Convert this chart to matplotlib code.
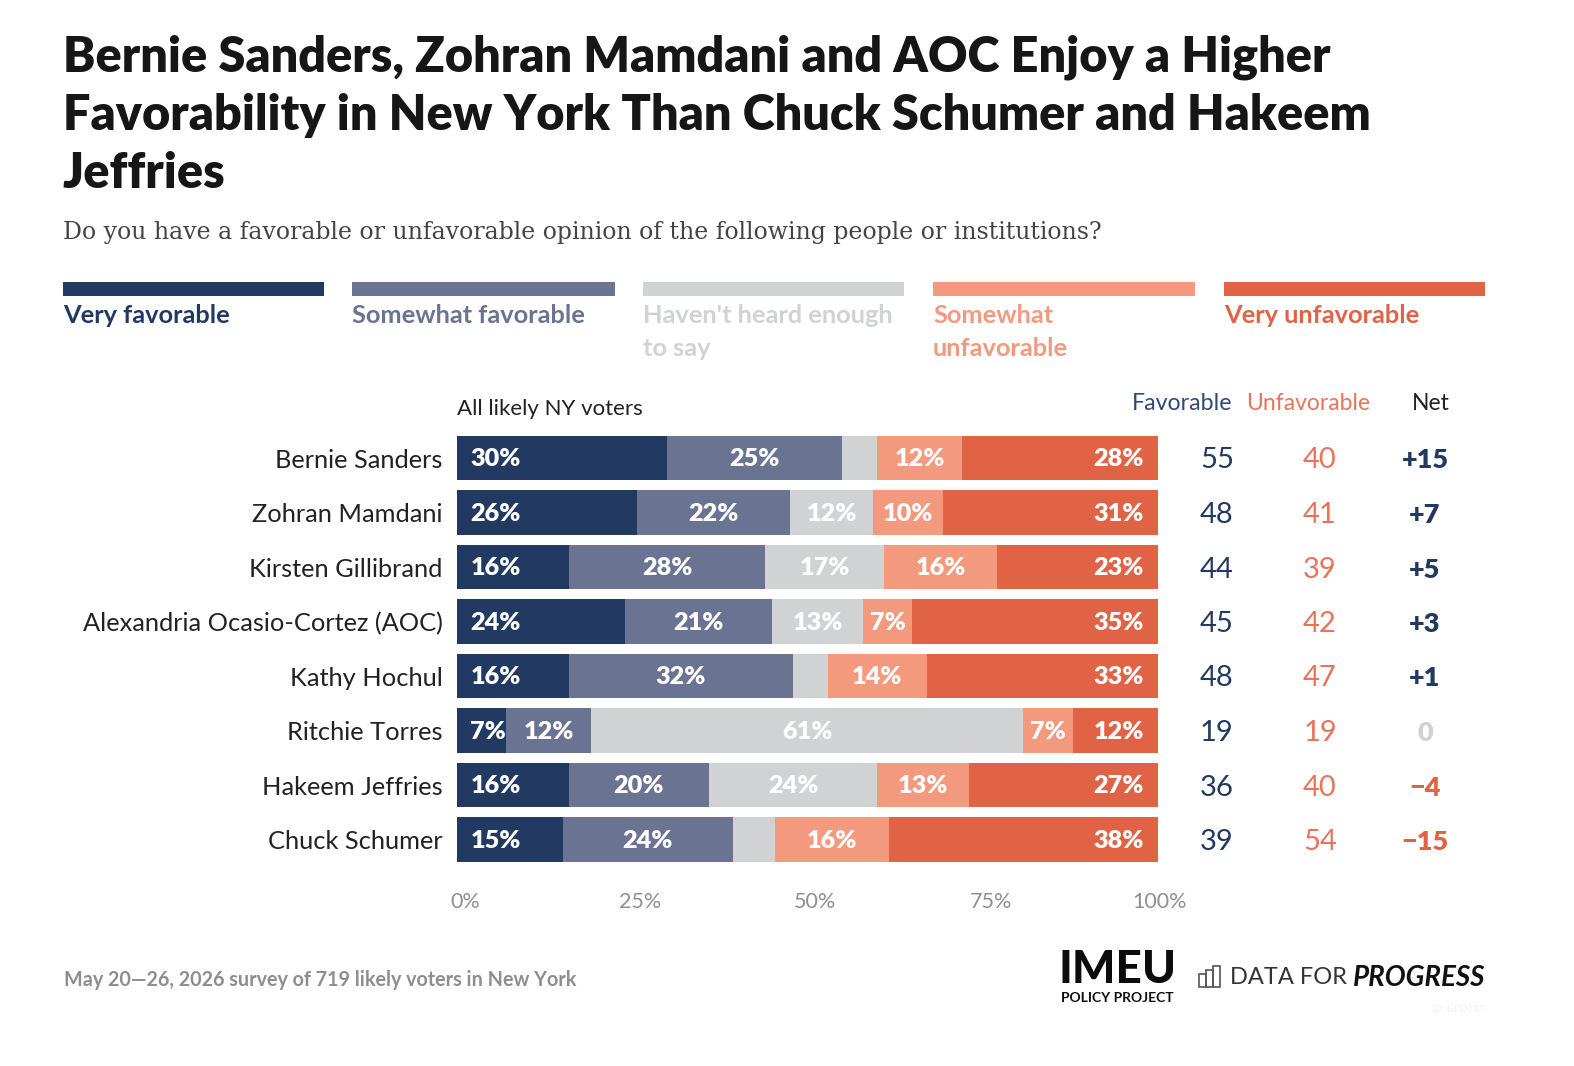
import matplotlib
matplotlib.use('Agg')
import matplotlib.pyplot as plt
from matplotlib.patches import Rectangle
from matplotlib.transforms import ScaledTranslation
import numpy as np

W, H = 1574, 1066

names = ['Bernie Sanders', 'Zohran Mamdani', 'Kirsten Gillibrand',
         'Alexandria Ocasio-Cortez (AOC)', 'Kathy Hochul', 'Ritchie Torres',
         'Hakeem Jeffries', 'Chuck Schumer']
very_fav = [30, 26, 16, 24, 16, 7, 16, 15]
some_fav = [25, 22, 28, 21, 32, 12, 20, 24]
not_heard = [5, 12, 17, 13, 5, 61, 24, 6]
some_unfav = [12, 10, 16, 7, 14, 7, 13, 16]
very_unfav = [28, 31, 23, 35, 33, 12, 27, 38]

favorable = [55, 48, 44, 45, 48, 19, 36, 39]
unfavorable = [40, 41, 39, 42, 47, 19, 40, 54]
net = ['+15', '+7', '+5', '+3', '+1', '0', '\u22124', '\u221215']
net_colors = ['#223962'] * 5 + ['#d1d2d4'] + ['#e06346'] * 2

legend_labels = ['Very favorable', 'Somewhat favorable',
                 "Haven't heard enough\nto say", 'Somewhat\nunfavorable',
                 'Very unfavorable']
colors = ['#223962', '#6a7391', '#d1d2d4', '#f2997e', '#e06346']
legend_x = [(63, 324), (352, 615), (643, 904), (933, 1195), (1224, 1485)]

ticks = [0, 25, 50, 75, 100]
tick_labels = ['0%', '25%', '50%', '75%', '100%']
tick_shift = [9, 8, 8, 8, 2]

plt.rcParams['font.family'] = ['Lato', 'DejaVu Sans']

fig = plt.figure(figsize=(W / 100, H / 100), dpi=100, facecolor='white')


def put(x, y, s, **kw):
    # x, y are measured in pixels from the top left corner
    kw.setdefault('va', 'center')
    return fig.text(x / W, 1 - y / H, s, **kw)


# title block
title_lines = ['Bernie Sanders, Zohran Mamdani and AOC Enjoy a Higher',
               'Favorability in New York Than Chuck Schumer and Hakeem',
               'Jeffries']
for line, ty in zip(title_lines, [57, 116, 174]):
    put(63, ty, line, fontsize=35, fontweight='heavy', color='#161616')
put(63, 232, 'Do you have a favorable or unfavorable opinion of the following people or institutions?',
    fontsize=17, family='DejaVu Serif', color='#444444')

# legend strips
for (x0, x1), lab, c in zip(legend_x, legend_labels, colors):
    fig.add_artist(Rectangle((x0 / W, 1 - 296 / H), (x1 - x0) / W, 14 / H,
                             transform=fig.transFigure, color=c, lw=0))
    for n, part in enumerate(lab.split('\n')):
        put(x0, 316 + n * 32, part, fontsize=18.3, fontweight='bold', color=c)

# stacked bars, each row scaled to its own total so all rows fill the axis
top_px, pitch = 436 - 5.05, 54.5
ax = fig.add_axes([456.5 / W, 1 - (top_px + 8 * pitch) / H, 701.5 / W, 8 * pitch / H])
series = np.array([very_fav, some_fav, not_heard, some_unfav, very_unfav], dtype=float)
totals = series.sum(axis=0)
y = np.arange(len(names))
left = np.zeros(len(names))
value_style = dict(va='center', color='white', fontsize=18.2, fontweight='heavy')
for k, vals in enumerate(series):
    share = vals / totals * 100
    ax.barh(y, share, left=left, height=0.815, color=colors[k], lw=0)
    for i in y:
        if vals[i] < 7:
            continue
        txt = f'{vals[i]:.0f}%'
        if k == 0:
            ax.annotate(txt, (left[i], i + 0.02), xytext=(10, 0), textcoords='offset points',
                        ha='left', **value_style)
        elif k == 4:
            ax.annotate(txt, (100, i + 0.02), xytext=(-10, 0), textcoords='offset points',
                        ha='right', **value_style)
        else:
            ax.text(left[i] + share[i] / 2, i + 0.02, txt, ha='center', **value_style)
    left += share

ax.set_xlim(0, 100)
ax.set_ylim(len(names) - 0.5, -0.5)
ax.set_yticks(y, names)
ax.set_xticks(ticks, tick_labels)
ax.tick_params(axis='y', length=0, pad=10, labelsize=18.3, labelcolor='#222222')
ax.tick_params(axis='x', length=0, pad=18, labelsize=15.5, labelcolor='#8f8f8f')
for lab, dx in zip(ax.get_xticklabels(), tick_shift):
    lab.set_transform(lab.get_transform() + ScaledTranslation(dx / 100, 0, fig.dpi_scale_trans))
for side in ax.spines.values():
    side.set_visible(False)

# column headers and right hand figures
put(457, 409, 'All likely NY voters', fontsize=16, color='#222222')
put(1182, 403, 'Favorable', ha='center', fontsize=16.7, color='#2f4a75')
put(1308, 403, 'Unfavorable', ha='center', fontsize=16.5, color='#e8745a')
put(1431, 403, 'Net', ha='center', fontsize=16.5, color='#222222')
for i in range(len(names)):
    row_y = 460.5 + i * pitch
    put(1217, row_y, str(favorable[i]), ha='center', fontsize=21, color='#223962')
    put(1320, row_y, str(unfavorable[i]), ha='center', fontsize=21, color='#e8745a')
    put(1425, row_y, net[i], ha='center', fontsize=19.5, fontweight='heavy', color=net_colors[i])

# footer and logos
put(64, 980, 'May 20\u201426, 2026 survey of 719 likely voters in New York', fontsize=14.2,
    fontweight='bold', color='#8e8e8e')
put(1058, 970, 'IMEU', fontsize=33, fontweight='black', color='#0c0c0c')
put(1061, 998, 'POLICY PROJECT', fontsize=10, fontweight='bold', color='#0c0c0c')
for bx, bh in zip([1199, 1206, 1213], [13, 17, 21]):
    fig.add_artist(Rectangle((bx / W, 1 - 987 / H), 7 / W, bh / H, transform=fig.transFigure,
                             fill=False, ec='#555555', lw=1.2))
put(1230, 978, 'DATA FOR', fontsize=17, fontweight='normal', color='#333333')
put(1353, 978, 'PROGRESS', fontsize=20, fontweight='bold', style='italic', color='#111111')
put(1484, 1010, 'ID: GPDT5T', ha='right', fontsize=7, color='#f0f0f0')

fig.savefig('out.png', dpi=100, facecolor='white')
